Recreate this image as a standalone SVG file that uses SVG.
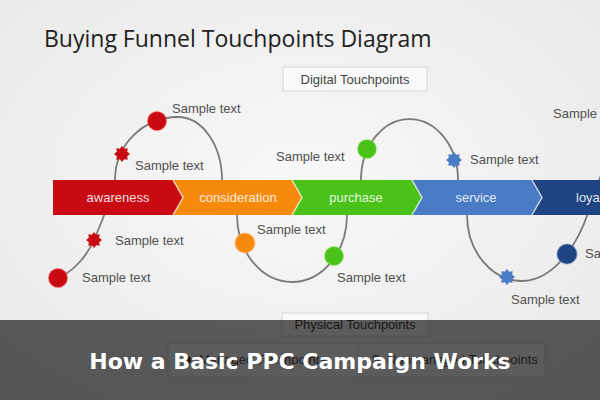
<svg xmlns="http://www.w3.org/2000/svg" width="600" height="400" viewBox="0 0 600 400">
<defs>
<radialGradient id="bg" cx="50%" cy="45%" r="70%">
<stop offset="0" stop-color="#f8f8f8"/>
<stop offset="1" stop-color="#e9e9e9"/>
</radialGradient>
<polygon id="star" points="8,0 5.17,2.14 5.66,5.66 2.14,5.17 0,8 -2.14,5.17 -5.66,5.66 -5.17,2.14 -8,0 -5.17,-2.14 -5.66,-5.66 -2.14,-5.17 0,-8 2.14,-5.17 5.66,-5.66 5.17,-2.14"/>
<style>
.lbl{font-family:"Liberation Sans",Arial,sans-serif;font-size:13px;fill:#505050}
.stage{font-family:"Liberation Sans",Arial,sans-serif;font-size:13px;fill:#fff;fill-opacity:0.88;text-anchor:middle}
.box{fill:#f9f9f9;stroke:#d6d6d6;stroke-width:1}
.boxt{font-family:"Liberation Sans",Arial,sans-serif;font-size:13px;fill:#444;text-anchor:middle}
.sep{fill:none;stroke:#ffffff;stroke-opacity:0.7;stroke-width:1.5}
.curve{fill:none;stroke:#7a7a7a;stroke-width:1.8}
.red{fill:#c80a12}
.orange{fill:#f7890c}
.green{fill:#4bc21a}
.blue{fill:#4a7bc6}
.navy{fill:#1f4482}
.dot{stroke-width:1.5;stroke-opacity:0.35}
</style>
</defs>
<rect width="600" height="400" fill="url(#bg)"/>
<text x="44" y="47" font-family="'Open Sans',sans-serif" font-size="23" fill="#222">Buying Funnel Touchpoints Diagram</text>
<g id="digital">
<rect class="box" x="283" y="67" width="144" height="24"/>
<text class="boxt" x="355" y="84">Digital Touchpoints</text>
</g>
<g id="connectors">
<path class="curve" d="M58,278 C72,272 86,258 94,240 C100,226 113,195 115,180 A63,63 0 0 1 178,117 A44,63 0 0 1 222,180 L237,215 A55,67 0 0 0 347,215 L361,180 A48.5,61 0 0 1 458,180 L467,215 A55,66 0 0 0 522,281 C540,281 556,268 567,254 C576,242 583,228 588,213 C594,196 600,178 606,160"/>
</g>
<g id="stages">
<g id="awareness">
<polygon class="red" points="53,180 173,180 183,197.5 173,215 53,215"/>
<text class="stage" x="118" y="202">awareness</text>
</g>
<g id="consideration">
<polygon class="orange" points="173,180 292,180 302,197.5 292,215 173,215 183,197.5"/>
<text class="stage" x="238" y="202">consideration</text>
</g>
<g id="purchase">
<polygon class="green" points="292,180 412,180 422,197.5 412,215 292,215 302,197.5"/>
<text class="stage" x="356" y="202">purchase</text>
</g>
<g id="service">
<polygon class="blue" points="412,180 532,180 542,197.5 532,215 412,215 422,197.5"/>
<text class="stage" x="476" y="202">service</text>
</g>
<g id="loyalty">
<polygon class="navy" points="532,180 600,180 600,215 532,215 542,197.5"/>
<text class="stage" x="576" y="202" style="text-anchor:start">loyalty</text>
</g>
<polyline class="sep" points="173,180 183,197.5 173,215"/>
<polyline class="sep" points="292,180 302,197.5 292,215"/>
<polyline class="sep" points="412,180 422,197.5 412,215"/>
<polyline class="sep" points="532,180 542,197.5 532,215"/>
</g>
<g id="tp1"><circle class="red dot" stroke="#ff6060" cx="58" cy="278" r="9.5"/><text class="lbl" x="82" y="282">Sample text</text></g>
<g id="tp2"><use href="#star" class="red" x="94" y="240"/><text class="lbl" x="115" y="245">Sample text</text></g>
<g id="tp3"><use href="#star" class="red" x="122" y="154"/><text class="lbl" x="135" y="170">Sample text</text></g>
<g id="tp4"><circle class="red dot" stroke="#ff6060" cx="157" cy="121" r="9.5"/><text class="lbl" x="172" y="113">Sample text</text></g>
<g id="tp5"><circle class="orange dot" stroke="#ffc070" cx="245" cy="243" r="10"/><text class="lbl" x="257" y="234">Sample text</text></g>
<g id="tp6"><circle class="green dot" stroke="#a0f070" cx="334" cy="256" r="9.5"/><text class="lbl" x="337" y="282">Sample text</text></g>
<g id="tp7"><circle class="green dot" stroke="#a0f070" cx="367" cy="149" r="9.5"/><text class="lbl" x="276" y="161">Sample text</text></g>
<g id="tp8"><use href="#star" class="blue" x="454" y="160"/><text class="lbl" x="470" y="164">Sample text</text></g>
<g id="tp9"><use href="#star" class="blue" x="507" y="277"/><text class="lbl" x="511" y="304">Sample text</text></g>
<g id="tp10"><circle class="navy dot" stroke="#7090c0" cx="567" cy="254" r="10"/><text class="lbl" x="585" y="258">Sample text</text></g>
<g id="tp11"><text class="lbl" x="553" y="118">Sample text</text></g>
<g id="physical">
<rect class="box" x="282" y="313" width="146" height="23"/>
<text class="boxt" x="355" y="329">Physical Touchpoints</text>
</g>
<g id="touchtypes">
<rect class="box" x="168" y="343" width="377" height="34"/>
<line x1="358" y1="346" x2="358" y2="374" stroke="#d6d6d6"/>
<circle cx="187" cy="360" r="4" fill="#444"/>
<text class="lbl" x="199" y="364" fill="#444">Managed Touchpoints</text>
<text class="lbl" x="372" y="364" fill="#444">$</text>
<text class="lbl" x="387" y="364" fill="#444">Nonmanaged Touchpoints</text>
</g>
<rect x="0" y="320" width="600" height="80" fill="#000" fill-opacity="0.63"/>
<text x="300" y="369" font-family="'DejaVu Sans',sans-serif" font-weight="bold" font-size="22" fill="#fff" text-anchor="middle">How a Basic PPC Campaign Works</text>
</svg>
